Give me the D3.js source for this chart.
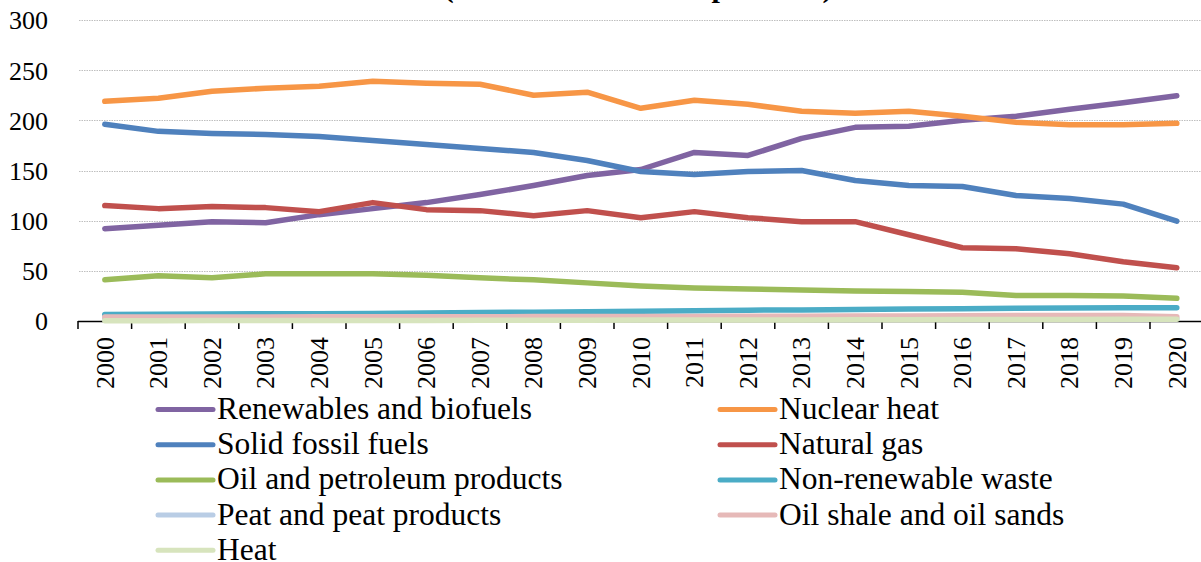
<!DOCTYPE html>
<html>
<head>
<meta charset="utf-8">
<style>
  html, body { margin: 0; padding: 0; background: #fff; }
  svg { display: block; font-family: "Liberation Serif", "Times New Roman", serif; }
</style>
</head>
<body>
<div id="chart"></div>
<script src="https://cdn.jsdelivr.net/npm/d3@7"></script>
<script>
// data
var years = ["2000","2001","2002","2003","2004","2005","2006","2007","2008","2009","2010",
             "2011","2012","2013","2014","2015","2016","2017","2018","2019","2020"];

var renewables = [92, 95.5, 99, 98, 106, 112, 118, 126, 135, 145, 151, 168, 165, 182, 193, 194, 200, 204, 211, 217.5, 224.5];
var nuclear    = [219, 222, 229, 232, 234, 239, 237, 236, 225, 228, 212, 220, 216, 209, 207, 209, 204, 198, 195.5, 195.5, 197];
var solid      = [196, 189, 187, 186, 184, 180, 176, 172, 168, 160, 149, 146, 149, 150, 140, 135, 134, 125, 122, 116.5, 99.5];
var gas        = [115, 112, 114, 113, 109, 118, 111, 110, 105, 110, 103, 109, 103, 99, 99, 86, 73, 72, 67, 59, 53];
var oil        = [41, 45, 43, 47, 47, 47, 45.5, 43, 41, 38, 35, 33, 32, 31, 30, 29.5, 28.6, 25.5, 25.3, 25, 22.6];
var waste      = [6.5, 6.7, 7, 7.2, 7.3, 7.6, 8, 8.4, 8.8, 9.2, 9.8, 10.3, 10.8, 11, 11.5, 12, 12.3, 12.7, 13, 13.2, 13.3];
var peat       = [3, 3, 3, 3, 2.9, 2.9, 2.9, 2.8, 2.8, 2.7, 2.7, 2.6, 2.6, 2.5, 2.5, 2.4, 2.4, 2.3, 2.3, 2.2, 2.2];
var shale      = [4, 4, 4.1, 4.1, 4.2, 4.2, 4.3, 4.3, 4.4, 4.4, 4.5, 4.6, 4.7, 4.8, 4.9, 5, 5.2, 5.4, 5.6, 5.5, 4.3];
var heat       = [0.3, 0.3, 0.4, 0.4, 0.5, 0.5, 0.6, 0.7, 0.8, 0.8, 0.9, 1, 1.1, 1.1, 1.2, 1.3, 1.4, 1.5, 1.6, 1.7, 1.7];

var yTicks = [0, 50, 100, 150, 200, 250, 300];

// drawing order = legend order, last drawn on top
var series = [
  { name: "Renewables and biofuels",    values: renewables, color: "#8064a2" },
  { name: "Nuclear heat",               values: nuclear,    color: "#f79646" },
  { name: "Solid fossil fuels",         values: solid,      color: "#4f81bd" },
  { name: "Natural gas",                values: gas,        color: "#c0504d" },
  { name: "Oil and petroleum products", values: oil,        color: "#9bbb59" },
  { name: "Non-renewable waste",        values: waste,      color: "#4bacc6" },
  { name: "Peat and peat products",     values: peat,       color: "#b9cde5" },
  { name: "Oil shale and oil sands",    values: shale,      color: "#e6b9b8" },
  { name: "Heat",                       values: heat,       color: "#d7e4bd" }
];

var W = 1201, H = 562;
var left = 78, bandW = 53.6;

var svg = d3.select("#chart").append("svg")
    .attr("width", W)
    .attr("height", H);

var x = d3.scaleBand()
    .domain(years)
    .range([left, left + bandW * years.length]);

var y = d3.scaleLinear()
    .domain([0, 300])
    .range([321, 20]);

// title, cut off by the top edge
svg.append("text")
    .attr("x", 638)
    .attr("y", -3)
    .attr("text-anchor", "middle")
    .style("font-size", "30px")
    .style("font-weight", "bold")
    .text("(in thousand TJ of input fuels)");

// grid lines
svg.append("g")
  .selectAll("line")
  .data(yTicks.filter(function (d) { return d > 0; }))
  .enter().append("line")
    .attr("x1", left + 1)
    .attr("x2", W)
    .attr("y1", function (d) { return Math.round(y(d)) + 0.5; })
    .attr("y2", function (d) { return Math.round(y(d)) + 0.5; })
    .attr("stroke", "#bfbfbf")
    .attr("stroke-width", 1)
    .attr("stroke-dasharray", "1.5,1");

// y axis labels only
var yAxis = d3.axisLeft(y).tickValues(yTicks).tickSize(0).tickPadding(0);
var gy = svg.append("g")
    .attr("transform", "translate(48,0)")
    .call(yAxis);
gy.select(".domain").remove();
gy.selectAll("text")
    .style("font-size", "26px")
    .style("font-family", "Liberation Serif, serif")
    .attr("fill", "#000")
    .attr("dy", "0.34em");

// x axis: ticks between categories
var xAxisG = svg.append("g");
xAxisG.append("line")
    .attr("x1", left).attr("x2", W)
    .attr("y1", 321.5).attr("y2", 321.5)
    .attr("stroke", "#000").attr("stroke-width", 1.5);
xAxisG.selectAll("line.tick")
  .data(years)
  .enter().append("line")
    .attr("class", "tick")
    .attr("x1", function (d) { return x(d); })
    .attr("x2", function (d) { return x(d); })
    .attr("y1", 321)
    .attr("y2", 329)
    .attr("stroke", "#000")
    .attr("stroke-width", 1.5);
xAxisG.selectAll("text")
  .data(years)
  .enter().append("text")
    .attr("transform", function (d) {
      return "translate(" + (x(d) + x.bandwidth() / 2) + ",337) rotate(-90)";
    })
    .attr("text-anchor", "end")
    .attr("dy", "0.34em")
    .style("font-size", "26px")
    .text(function (d) { return d; });

// lines
var line = d3.line()
    .x(function (d, i) { return x(years[i]) + x.bandwidth() / 2; })
    .y(function (d) { return y(d); });

svg.append("g")
  .selectAll("path")
  .data(series)
  .enter().append("path")
    .attr("d", function (d) { return line(d.values); })
    .attr("fill", "none")
    .attr("stroke", function (d) { return d.color; })
    .attr("stroke-width", 5.5)
    .attr("stroke-linecap", "round")
    .attr("stroke-linejoin", "round");

// legend, two columns
var legend = svg.append("g");
var items = legend.selectAll("g")
  .data(series)
  .enter().append("g")
    .attr("transform", function (d, i) {
      var col = i % 2, row = Math.floor(i / 2);
      return "translate(" + (col === 0 ? 158 : 720) + "," + (419 + row * 35.2) + ")";
    });
items.append("line")
    .attr("x1", 0).attr("x2", 55)
    .attr("y1", -9.5).attr("y2", -9.5)
    .attr("stroke", function (d) { return d.color; })
    .attr("stroke-width", 5)
    .attr("stroke-linecap", "round");
items.append("text")
    .attr("x", 59)
    .attr("y", 0)
    .style("font-size", "31.5px")
    .text(function (d) { return d.name; });
</script>
</body>
</html>
